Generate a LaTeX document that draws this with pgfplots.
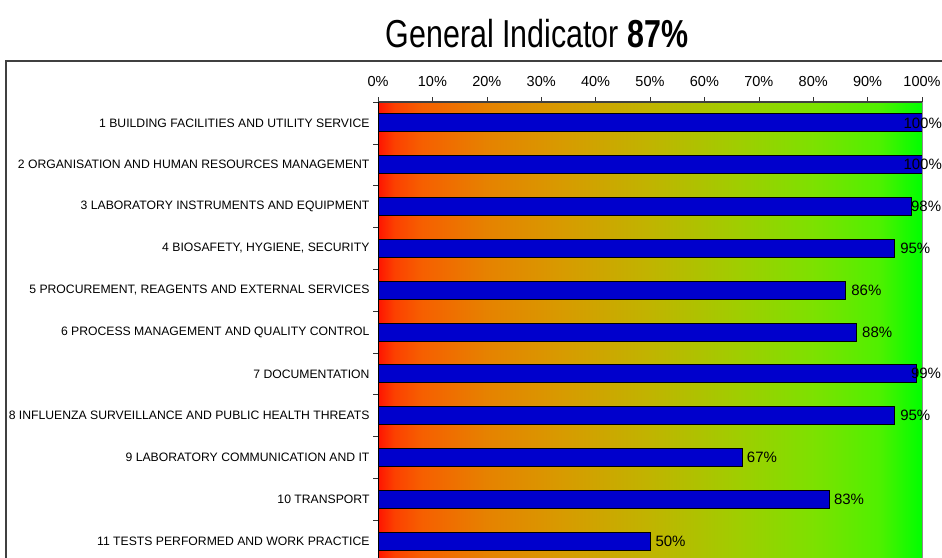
\documentclass[border=0pt]{standalone}
\usepackage{fontspec}
\setmainfont{Liberation Sans}
\usepackage{graphicx}
\usepackage{pgfplots}
\usepackage{pgfplotstable}
\pgfplotsset{compat=1.18}
\definecolor{g0}{RGB}{255,20,0}
\definecolor{g1}{RGB}{252,64,0}
\definecolor{g2}{RGB}{246,95,0}
\definecolor{g3}{RGB}{230,130,0}
\definecolor{g4}{RGB}{215,155,0}
\definecolor{g5}{RGB}{192,180,0}
\definecolor{g6}{RGB}{160,205,0}
\definecolor{g7}{RGB}{125,225,0}
\definecolor{g8}{RGB}{80,240,0}
\definecolor{g9}{RGB}{0,255,0}
\definecolor{barblue}{RGB}{0,0,204}
\pgfdeclarehorizontalshading{redgreen}{100bp}{color(0bp)=(g0); color(25bp)=(g0); color(26.5bp)=(g1); color(29bp)=(g2); color(35bp)=(g3); color(42bp)=(g4); color(50bp)=(g5); color(58bp)=(g6); color(65bp)=(g7); color(71bp)=(g8); color(75bp)=(g9); color(100bp)=(g9)}
\pgfplotstableread{
i v dx
1 100 -19
2 100 -19
3 98 -0.5
4 95 5
5 86 5
6 88 5
7 99 -6
8 95 5
9 67 4
10 83 4
11 50 5
}\scores
\begin{document}
\begin{tikzpicture}[x=1pt,y=1pt]
\useasboundingbox (0,0) rectangle (942,557);
\draw[line width=1.3pt, black!75] (6,-20) -- (6,496) -- (960,496);
\node[anchor=base, inner sep=0pt, font=\fontsize{39}{39}\selectfont] at (537,509) {\scalebox{0.78}[1]{General Indicator \textbf{87\%}}};
\begin{axis}[
  at={(378pt,-5pt)}, anchor=south west,
  width=544pt, height=460pt, scale only axis,
  xmin=0, xmax=100, ymin=0.5, ymax=11.5, y dir=reverse,
  axis on top,
  axis background/.style={shade, shading=redgreen},
  axis x line*=top, axis y line*=left,
  x axis line style={black!75, line width=1.2pt},
  y axis line style={black, line width=0.8pt},
  tick align=outside,
  major tick length=5pt,
  tick style={black!80, line width=0.6pt},
  xtick={0,10,...,100},
  xticklabel={\pgfmathprintnumber{\tick}\%},
  xticklabel style={font=\fontsize{14.5}{15}\selectfont, yshift=7pt},
  /pgf/number format/assume math mode=true,
  ytick={0.5,1.5,2.5,3.5,4.5,5.5,6.5,7.5,8.5,9.5,10.5,11.5},
  yticklabels={},
  extra y ticks={1,2,3,4,5,6,7,8,9,10,11},
  extra y tick labels={
    {1 BUILDING FACILITIES AND UTILITY SERVICE},
    {2 ORGANISATION AND HUMAN RESOURCES MANAGEMENT},
    {3 LABORATORY INSTRUMENTS AND EQUIPMENT},
    {4 BIOSAFETY, HYGIENE, SECURITY},
    {5 PROCUREMENT, REAGENTS AND EXTERNAL SERVICES},
    {6 PROCESS MANAGEMENT AND QUALITY CONTROL},
    {7 DOCUMENTATION},
    {8 INFLUENZA SURVEILLANCE AND PUBLIC HEALTH THREATS},
    {9 LABORATORY COMMUNICATION AND IT},
    {10 TRANSPORT},
    {11 TESTS PERFORMED AND WORK PRACTICE}},
  extra y tick style={tick style={draw=none}, yticklabel style={font=\fontsize{12.2}{13}\selectfont, anchor=east}},
  xbar, bar width=18pt,
  clip=false,
]
\addplot[fill=barblue, draw=black, line width=1pt,
  point meta=explicit,
  visualization depends on={\thisrow{dx} \as \dx},
  nodes near coords={\pgfmathprintnumber{\pgfplotspointmeta}\%},
  nodes near coords style={anchor=west, inner sep=0pt, xshift=\dx pt, font=\fontsize{15}{15}\selectfont, text=black}]
  table[x=v, y=i, meta=v] {\scores};
\draw[black!45, line width=1pt] (rel axis cs:1,0) -- (rel axis cs:1,1);
\end{axis}
\end{tikzpicture}
\end{document}
